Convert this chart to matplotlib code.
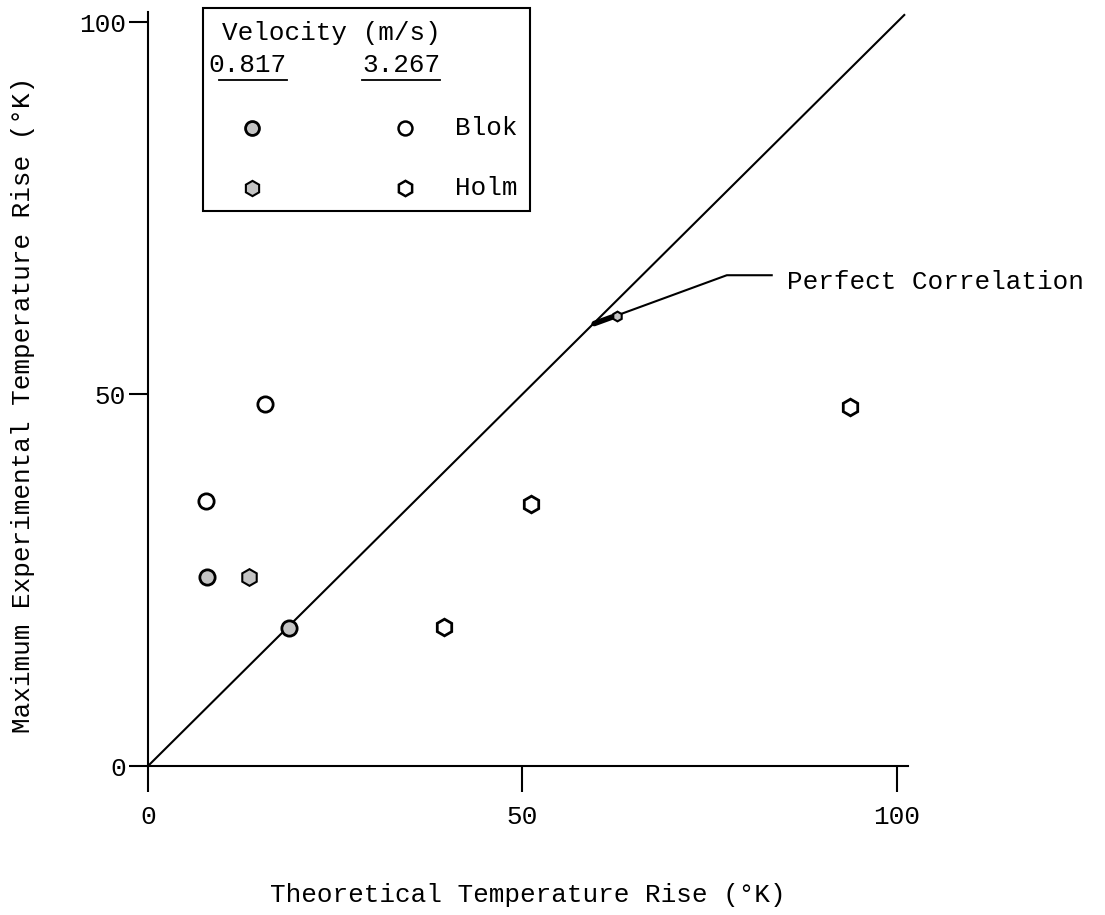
import matplotlib
matplotlib.use("Agg")
import matplotlib.pyplot as plt
from matplotlib.patches import Rectangle

plt.rcParams['font.family'] = ['Liberation Mono', 'DejaVu Sans Mono']

# Data (theoretical rise, experimental rise) in deg K
blok_0817_x = [7.9, 18.8]
blok_0817_y = [25.4, 18.5]
blok_3267_x = [15.6, 7.7]
blok_3267_y = [48.7, 35.6]
holm_0817_x = [13.5]
holm_0817_y = [25.4]
holm_0817_small_x = [62.6]
holm_0817_small_y = [60.5]
holm_3267_x = [39.5, 51.1, 93.7]
holm_3267_y = [18.7, 35.3, 48.3]

perfect_x = [0, 101]
perfect_y = [0, 101]

xticks = [0, 50, 100]
yticks = [0, 50, 100]

fig = plt.figure(figsize=(11.05, 9.15), dpi=100)
ax = fig.add_axes([148/1105, 149/915, 760/1105, 754/915])
ax.set_xlim(0, 101.5)
ax.set_ylim(0, 101.4)

fs = 18.7
grey = '#c4c4c4'
mew = 2.0

ax.plot(perfect_x, perfect_y, color='black', lw=1.5, clip_on=False, zorder=2)

ax.plot(blok_0817_x, blok_0817_y, 'o', ms=11, mfc=grey, mec='black', mew=mew, ls='none', zorder=3)
ax.plot(blok_3267_x, blok_3267_y, 'o', ms=11, mfc='white', mec='black', mew=mew, ls='none', zorder=3)
ax.plot(holm_0817_x, holm_0817_y, 'h', ms=12, mfc=grey, mec='black', mew=1.5, ls='none', zorder=3)
ax.plot(holm_3267_x, holm_3267_y, 'h', ms=12, mfc='white', mec='black', mew=mew, ls='none', zorder=3)

# Perfect correlation annotation (leader thickens toward the line)
ax.plot([59.4, 77.3, 83.3], [59.4, 66.0, 66.0], color='black', lw=1.5, zorder=2)
ax.plot([59.6, 62.6], [59.5, 60.6], color='black', lw=4, solid_capstyle='round', zorder=2)
ax.plot(holm_0817_small_x, holm_0817_small_y, 'h', ms=7, mfc=grey, mec='black', mew=1.5, ls='none', zorder=3)
ax.text(85.4, 65.1, 'Perfect Correlation', fontsize=fs, ha='left', va='center')

# Axes styling
for s in ['top', 'right']:
    ax.spines[s].set_visible(False)
for s in ['left', 'bottom']:
    ax.spines[s].set_linewidth(1.5)
ax.set_xticks(xticks)
ax.set_yticks(yticks)
ax.tick_params(axis='x', direction='out', length=19, width=1.5, pad=9, labelsize=fs)
ax.tick_params(axis='y', direction='out', length=14, width=1.5, pad=2, labelsize=fs)

ax.set_xlabel('Theoretical Temperature Rise (°K)', fontsize=fs, va='center')
ax.xaxis.set_label_coords(0.5, -0.171)
ax.set_ylabel('Maximum Experimental Temperature Rise (°K)', fontsize=fs, va='center')
ax.yaxis.set_label_coords(-0.165, 0.479)

# Legend box (hand-built, as in the original)
T = ax.transAxes
ax.add_patch(Rectangle((0.0724, 0.736), 0.430, 0.269, transform=T, fill=False,
                       lw=1.5, ec='black', clip_on=False))
ax.text(0.0974, 0.972, 'Velocity (m/s)', transform=T, fontsize=fs, ha='left', va='center')
ax.text(0.079, 0.930, '0.817', transform=T, fontsize=fs, ha='left', va='center')
ax.text(0.2816, 0.930, '3.267', transform=T, fontsize=fs, ha='left', va='center')
ax.plot([0.0934, 0.183], [0.910, 0.910], transform=T, color='black', lw=1.3, clip_on=False)
ax.plot([0.2816, 0.384], [0.910, 0.910], transform=T, color='black', lw=1.3, clip_on=False)
ax.plot([0.137], [0.846], 'o', transform=T, ms=10, mfc=grey, mec='black', mew=mew, clip_on=False)
ax.plot([0.338], [0.846], 'o', transform=T, ms=10, mfc='white', mec='black', mew=1.8, clip_on=False)
ax.plot([0.137], [0.767], 'h', transform=T, ms=11, mfc=grey, mec='black', mew=1.5, clip_on=False)
ax.plot([0.338], [0.767], 'h', transform=T, ms=11, mfc='white', mec='black', mew=1.8, clip_on=False)
ax.text(0.404, 0.846, 'Blok', transform=T, fontsize=fs, ha='left', va='center')
ax.text(0.404, 0.767, 'Holm', transform=T, fontsize=fs, ha='left', va='center')

fig.savefig('out.png', dpi=100, facecolor='white')
